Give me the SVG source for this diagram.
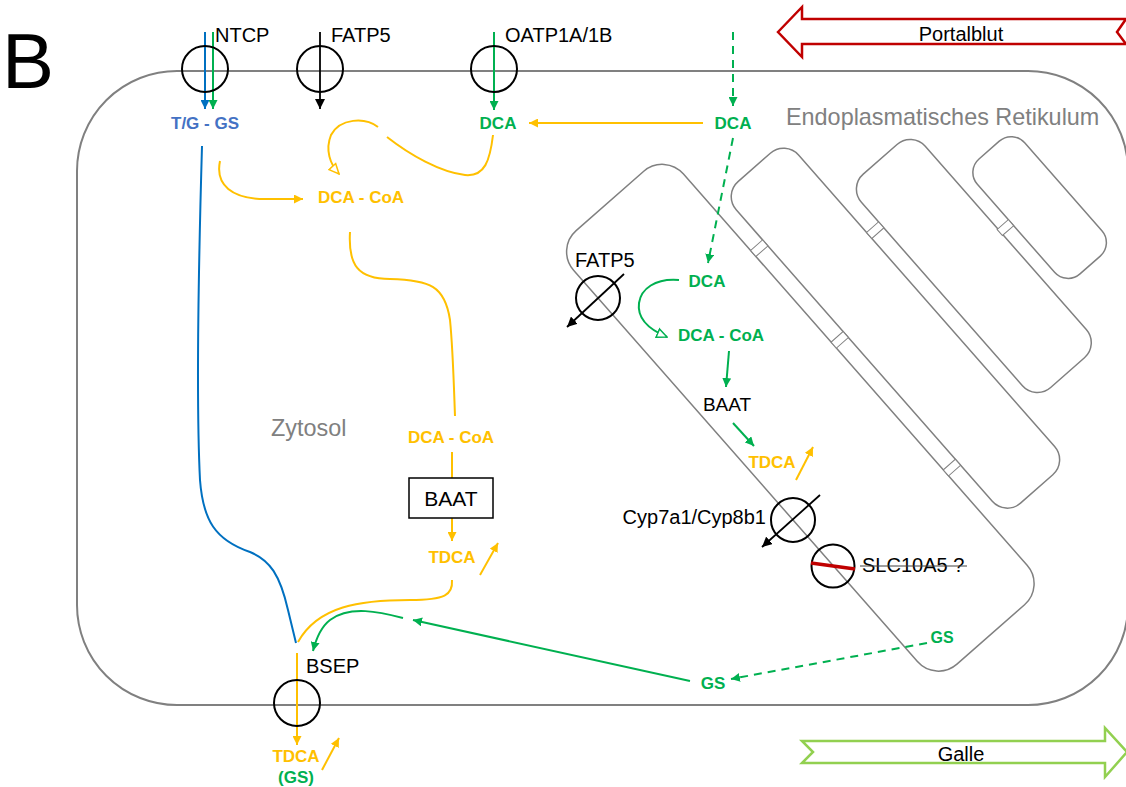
<svg xmlns="http://www.w3.org/2000/svg" width="1126" height="787" viewBox="0 0 1126 787">
<style>
.lbl{font-family:"Liberation Sans",Arial,sans-serif;font-size:20px;fill:#000}
.b{font-family:"Liberation Sans",Arial,sans-serif;font-size:17px;font-weight:bold}
.go{fill:#FFC000}.gg{fill:#00B050}.gb{fill:#4472C4}
.grey{font-family:"Liberation Sans",Arial,sans-serif;font-size:23.4px;fill:#808080}
.mem{fill:none;stroke:#000;stroke-width:2}
.er{fill:none;stroke:#808080;stroke-width:1.5}
.lad{fill:#fff;stroke:#808080;stroke-width:1}
.o{fill:none;stroke:#FFC000;stroke-width:2}
.g{fill:none;stroke:#00B050;stroke-width:2}
.gd{fill:none;stroke:#00B050;stroke-width:2;stroke-dasharray:8 6}
.k{fill:none;stroke:#000;stroke-width:1.8}
.bl{fill:none;stroke:#0070C0;stroke-width:2}
</style>
<defs>
<marker id="ao" viewBox="0 0 10 10" refX="10" refY="5" markerWidth="9" markerHeight="9" markerUnits="userSpaceOnUse" orient="auto"><path d="M0,0 L10,5 L0,10 z" fill="#FFC000"/></marker>
<marker id="ag" viewBox="0 0 10 10" refX="10" refY="5" markerWidth="9" markerHeight="9" markerUnits="userSpaceOnUse" orient="auto"><path d="M0,0 L10,5 L0,10 z" fill="#00B050"/></marker>
<marker id="ak" viewBox="0 0 10 10" refX="10" refY="5" markerWidth="10" markerHeight="10" markerUnits="userSpaceOnUse" orient="auto"><path d="M0,0 L10,5 L0,10 z" fill="#000"/></marker>
<marker id="ab" viewBox="0 0 10 10" refX="10" refY="5" markerWidth="9" markerHeight="9" markerUnits="userSpaceOnUse" orient="auto"><path d="M0,0 L10,5 L0,10 z" fill="#0070C0"/></marker>
<marker id="oo" viewBox="0 0 12 12" refX="11" refY="6" markerWidth="12" markerHeight="12" markerUnits="userSpaceOnUse" orient="auto"><path d="M1,1.5 L11,6 L1,10.5 z" fill="#fff" stroke="#FFC000" stroke-width="1.5"/></marker>
<marker id="og" viewBox="0 0 12 12" refX="11" refY="6" markerWidth="12" markerHeight="12" markerUnits="userSpaceOnUse" orient="auto"><path d="M1,1.5 L11,6 L1,10.5 z" fill="#fff" stroke="#00B050" stroke-width="1.5"/></marker>
</defs>
<rect width="1126" height="787" fill="#fff"/>
<text x="2" y="88" style="font-family:'Liberation Sans',Arial,sans-serif;font-size:78px">B</text>

<g id="portalblut">
<polygon points="778,32 802,7 802,19 1126,19 1117,32 1126,44 802,44 802,57" fill="#fff" stroke="#C00000" stroke-width="2.5"/>
<text x="961" y="41" class="lbl" text-anchor="middle">Portalblut</text>
</g>
<g id="galle">
<polygon points="802,741 1105,741 1105,728 1127,752 1105,777 1105,763 802,763 813,752" fill="#fff" stroke="#92D050" stroke-width="2.5"/>
<text x="961" y="761" class="lbl" text-anchor="middle">Galle</text>
</g>

<g id="cell">
<rect x="77" y="71" width="1051" height="634" rx="100" fill="none" stroke="#808080" stroke-width="2"/>
<text x="786" y="125" class="grey">Endoplasmatisches Retikulum</text>
<text x="271" y="436" class="grey">Zytosol</text>
</g>

<g id="er" transform="translate(598,298) rotate(48.7)">
<rect class="er" x="-65" y="-146" width="577" height="146" rx="28"/>
<rect class="er" x="5" y="-245" width="428" height="83" rx="20"/>
<rect class="er" x="82" y="-346" width="284" height="85" rx="20"/>
<rect class="er" x="147" y="-423" width="153" height="63" rx="18"/>
<rect class="lad" x="65" y="-162" width="8" height="16"/>
<rect class="lad" x="187" y="-162" width="8" height="16"/>
<rect class="lad" x="357" y="-162" width="8" height="16"/>
<rect class="lad" x="128" y="-261" width="8" height="16"/>
<rect class="lad" x="212" y="-360" width="8" height="15"/>
</g>

<g id="connectors">
<line class="bl" x1="205" y1="32" x2="205" y2="109" marker-end="url(#ab)"/>
<line class="g" x1="213" y1="32" x2="213" y2="109" marker-end="url(#ag)"/>
<line class="k" x1="320" y1="32" x2="320" y2="109" marker-end="url(#ak)"/>
<line class="g" x1="494" y1="32" x2="494" y2="110" marker-end="url(#ag)"/>
<line class="gd" x1="733" y1="32" x2="733" y2="106" marker-end="url(#ag)"/>
<line class="o" x1="703" y1="123" x2="529" y2="123" marker-end="url(#ao)"/>
<path class="gd" d="M733,138 L708,263" marker-end="url(#ag)"/>
<path class="o" d="M493,135 C490,160 485,177 465,175 C440,172 410,155 387,137"/>
<path class="o" d="M378,127 C365,117 340,118 331,135 C325,150 330,164 339,174" marker-end="url(#oo)"/>
<path class="o" d="M220,161 C215,185 232,199 265,199 L303,199" marker-end="url(#ao)"/>
<path class="o" d="M350,232 C348,265 358,279 390,279 C430,280 445,286 450,320 C453,350 454,390 455,416"/>
<line class="o" x1="452" y1="452" x2="452" y2="478"/>
<line class="o" x1="452" y1="518" x2="452" y2="541" marker-end="url(#ao)"/>
<line class="o" x1="480" y1="575" x2="498" y2="543" marker-end="url(#ao)"/>
<path class="o" d="M452,580 C453,595 445,600 410,600 C360,600 318,606 298,642"/>
<path class="bl" d="M202,146 C199,250 196,400 200,480 C203,520 215,540 250,552 C270,560 280,575 288,610 L296,643"/>
<line class="o" x1="297" y1="653" x2="297" y2="745" marker-end="url(#ao)"/>
<line class="o" x1="322" y1="770" x2="339" y2="738" marker-end="url(#ao)"/>
<path class="g" d="M403,618 C380,612 350,605 330,620 C321,627 316,639 313,651" marker-end="url(#ag)"/>
<line class="g" x1="690" y1="681" x2="413" y2="620" marker-end="url(#ag)"/>
<line class="gd" x1="927" y1="643" x2="731" y2="679" marker-end="url(#ag)"/>
<path class="g" d="M679,280 C655,278 641,289 639,303 C637,318 648,329 667,337" marker-end="url(#og)"/>
<line class="g" x1="729" y1="351" x2="726" y2="387" marker-end="url(#ag)"/>
<line class="g" x1="733" y1="423" x2="754" y2="446" marker-end="url(#ag)"/>
<line class="o" x1="796" y1="480" x2="813" y2="447" marker-end="url(#ao)"/>
<line class="k" x1="624" y1="274" x2="567" y2="327" marker-end="url(#ak)"/>
<line class="k" x1="820" y1="495" x2="762" y2="547" marker-end="url(#ak)"/>
</g>

<g id="ntcp"><circle class="mem" cx="205" cy="69" r="23"/><text class="lbl" x="215" y="42">NTCP</text></g>
<g id="fatp5-top"><circle class="mem" cx="320" cy="69" r="23"/><text class="lbl" x="331" y="42">FATP5</text></g>
<g id="oatp"><circle class="mem" cx="494" cy="69" r="23"/><text class="lbl" x="505" y="42">OATP1A/1B</text></g>
<g id="bsep"><circle class="mem" cx="297" cy="703" r="23"/><text class="lbl" x="306" y="673">BSEP</text></g>
<g id="fatp5-er"><circle class="mem" cx="598" cy="298" r="22"/><text class="lbl" x="575" y="267">FATP5</text></g>
<g id="cyp"><circle class="mem" cx="793" cy="520" r="22"/><text class="lbl" x="766" y="524" text-anchor="end">Cyp7a1/Cyp8b1</text></g>
<g id="slc"><circle class="mem" cx="833" cy="566" r="21.5"/><line x1="811" y1="563" x2="855" y2="569" stroke="#C00000" stroke-width="3.5"/><text class="lbl" x="862" y="572">SLC10A5 ?</text><line x1="860" y1="566" x2="967" y2="566" stroke="#404040" stroke-width="1"/></g>
<g id="baat-box"><rect x="409" y="478" width="84" height="40" fill="#fff" stroke="#000" stroke-width="1.5"/><text class="lbl" x="451" y="506" text-anchor="middle" style="font-size:21px">BAAT</text></g>
<g id="baat-er"><text class="lbl" x="727" y="411" text-anchor="middle" style="font-size:19px">BAAT</text></g>

<g id="tg-gs"><text class="b gb" x="205" y="129" text-anchor="middle">T/G - GS</text></g>
<g id="dca1"><text class="b gg" x="498" y="129" text-anchor="middle">DCA</text></g>
<g id="dca2"><text class="b gg" x="733" y="129" text-anchor="middle">DCA</text></g>
<g id="dcacoa1"><text class="b go" x="361" y="203" text-anchor="middle">DCA - CoA</text></g>
<g id="dcacoa2"><text class="b go" x="451" y="443" text-anchor="middle">DCA - CoA</text></g>
<g id="tdca1"><text class="b go" x="452" y="563" text-anchor="middle">TDCA</text></g>
<g id="tdca2"><text class="b go" x="296" y="762" text-anchor="middle">TDCA</text><text class="b gg" x="296" y="783" text-anchor="middle">(GS)</text></g>
<g id="dca3"><text class="b gg" x="707" y="287" text-anchor="middle">DCA</text></g>
<g id="dcacoa3"><text class="b gg" x="721" y="341" text-anchor="middle">DCA - CoA</text></g>
<g id="tdca3"><text class="b go" x="772" y="468" text-anchor="middle">TDCA</text></g>
<g id="gs1"><text class="b gg" x="942" y="643" text-anchor="middle" style="font-size:16px">GS</text></g>
<g id="gs2"><text class="b gg" x="713" y="689" text-anchor="middle">GS</text></g>
</svg>
